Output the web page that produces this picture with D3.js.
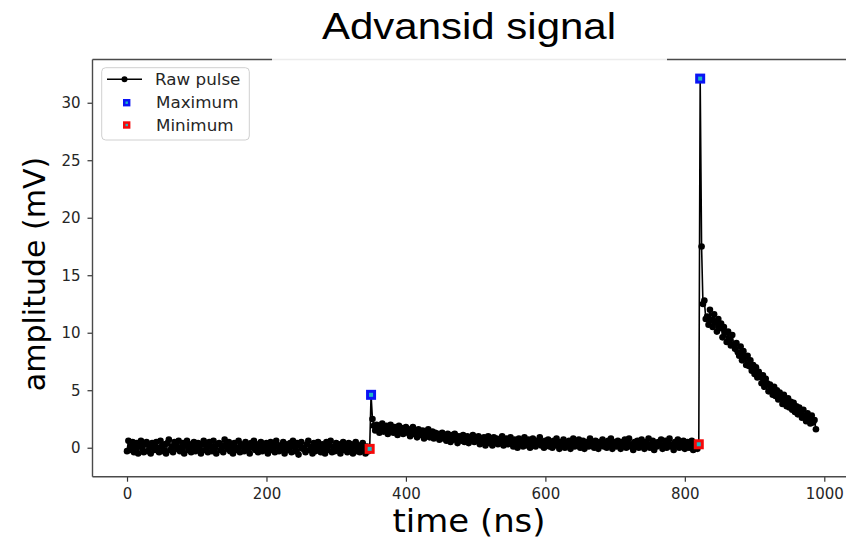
<!doctype html>
<html lang="en">
<head>
<meta charset="utf-8">
<title>Advansid signal</title>
<script src="https://cdnjs.cloudflare.com/ajax/libs/d3/7.8.5/d3.min.js"></script>
<style>
  body { margin: 0; background: #fff; }
  svg { display: block; }
  .tick text { font-family: "DejaVu Sans", sans-serif; font-size: 15px; fill: #262626; }
  .tick line { stroke: #333; stroke-width: 1.2px; }
</style>
</head>
<body>
<script>

// sampling of the trace (ns)
var sampleStart = 0,
    sampleStep = 2;

// raw pulse amplitude (mV), one value per sample
var baseline = [
  -0.3, 0.6, -0.2, 0.1, 0.5, -0.4, 0.0, 0.4, -0.5, 0.2, 0.6, -0.1, -0.4, 0.3, 0.5, -0.3, 0.1, -0.5, 0.4, 0.2,
  -0.2, 0.5, 0.0, -0.4, 0.6, 0.1, -0.3, 0.3, -0.5, 0.4, 0.7, -0.2, 0.1, -0.4, 0.5, 0.2, -0.1, 0.6, -0.3, 0.0,
  0.4, -0.5, 0.2, 0.6, -0.2, 0.3, -0.4, 0.1, 0.5, -0.3, 0.0, 0.4, -0.1, -0.5, 0.3, 0.6, -0.2, 0.2, -0.4, 0.5,
  0.1, -0.3, 0.6, 0.0, -0.5, 0.3, 0.4, -0.2, 0.2, -0.4, 0.7, 0.1, -0.1, 0.5, -0.3, 0.2, -0.5, 0.4, 0.0, -0.2,
  0.6, -0.4, 0.3, 0.1, -0.3, 0.5, -0.1, 0.2, -0.5, 0.4, 0.0, 0.6, -0.2, 0.3, -0.4, 0.1, 0.5, -0.3, 0.2, -0.1,
  0.4, -0.5, 0.0, 0.5, -0.2, 0.3, -0.4, 0.6, 0.1, -0.3, 0.2, -0.1, 0.5, -0.5, 0.3, 0.0, -0.2, 0.4, -0.4, 0.6,
  0.1, -0.3, 0.4, -0.6, 0.2, 0.5, -0.1, 0.0, -0.4, 0.3, 0.6, -0.2, 0.1, -0.5, 0.4, -0.3, 0.2, 0.5, -0.1, -0.4,
  0.3, 0.0, -0.5, 0.5, -0.2, 0.2, 0.6, -0.4, 0.1, -0.3, 0.4, -0.1, 0.3, -0.5, 0.0, 0.5, -0.2, 0.2, -0.4, 0.4,
  -0.1, 0.3, -0.5, 0.1, 0.5, -0.3, 0.2, -0.4, 0.0, 0.4, -0.2, -0.5, 0.1, -0.3
];

var smallPulse = [
  -0.1, 4.6, 2.5,
  1.9, 1.5, 2.0, 1.6, 1.3, 1.8, 2.1, 1.4, 1.7, 1.9, 1.2, 1.6, 2.0, 1.5, 1.3, 1.8, 1.6, 1.1, 1.9, 1.4, 1.7, 1.2, 1.5, 1.8,
  1.3, 1.6, 1.0, 1.5, 1.8, 1.2, 1.4, 0.9, 1.6, 1.3, 1.1, 1.5, 0.8, 1.4, 1.2, 1.6, 0.9, 1.1, 1.4, 0.8, 1.3, 1.0, 1.2, 0.7, 1.1,
  1.3, 0.8, 1.0, 0.6, 1.2, 0.9, 0.5, 1.1, 0.7, 1.2, 0.8, 0.4, 1.0, 0.9, 0.6, 1.1, 0.5, 0.8, 1.0, 0.4, 0.9, 0.7, 1.1, 0.5, 0.8,
  0.6, 1.0, 0.3, 0.8, 0.5, 0.9, 0.2, 0.7, 1.0, 0.4, 0.6, 0.2, 0.9, 0.5, 0.8, 0.3, 0.7, 0.4, 1.0, 0.2, 0.6, 0.8, 0.3, 0.5, 0.9,
  0.4, 0.1, 0.7, 0.5, 0.0, 0.8, 0.3, 0.6, 0.1, 0.9, 0.4, 0.2, 0.7, 0.0, 0.5, 0.8, 0.3, 0.1, 0.6, 0.4, 0.9, 0.2, 0.5, 0.0, 0.6,
  0.3, 0.7, 0.1, 0.5, 0.0, 0.6, 0.2, 0.8, 0.4, -0.1, 0.5, 0.3, 0.7, 0.0, 0.4, 0.2, 0.6, -0.1, 0.3, 0.8, 0.1, 0.5, 0.2, 0.7, 0.0,
  0.4, 0.6, -0.1, 0.3, 0.5, 0.1, 0.8, 0.2, 0.4, 0.0, 0.6, 0.3, -0.1, 0.5, 0.2, 0.7, 0.1, 0.4, 0.0, 0.6, 0.3, 0.8, -0.1, 0.2, 0.5,
  0.1, 0.6, 0.3, -0.1, 0.5, 0.2, 0.7, 0.0, 0.4, 0.8, 0.1, 0.3, -0.2, 0.5, 0.2, 0.6, 0.0, 0.4, 0.7, 0.1,
  -0.1, 0.5, 0.3, 0.8, 0.0, 0.2, 0.6, -0.2, 0.4, 0.1, 0.5, 0.3, 0.7, -0.1, 0.2, 0.6, 0.0, 0.4, 0.8, 0.1,
  0.3, -0.2, 0.5, 0.2, 0.7, 0.0, 0.4, 0.1, 0.6, -0.1, 0.3, 0.5, 0.0, 0.2, 0.6, -0.2, 0.4, 0.1, -0.1, 0.3
];

var bigPulse = [
  32.1, 17.5, 12.5, 12.8, 11.2,
  11.4, 10.7, 12.0, 11.1, 10.5, 11.6, 10.9, 10.1, 11.2, 10.4, 10.8,
  9.6, 10.5, 10.0, 9.2, 10.1, 9.4, 8.9, 9.8, 9.0, 8.6,
  9.1, 8.3, 8.0, 8.8, 7.6, 8.4, 7.9, 7.2, 8.0, 7.1,
  7.6, 6.7, 7.2, 6.4, 7.0, 6.1, 6.6, 6.2, 5.6, 6.3,
  5.3, 6.0, 5.6, 4.9, 5.5, 5.1, 4.6, 5.3, 4.5, 5.0,
  4.2, 4.8, 4.4, 3.8, 4.6, 4.0, 3.6, 4.3, 3.5, 4.0,
  3.3, 3.9, 3.1, 3.6, 2.9, 3.5, 3.0, 2.6, 3.3, 2.7,
  2.3, 3.0, 2.5, 2.1, 2.8, 2.2, 2.4, 1.6
];

// detected extrema (ns, mV)
var maxTime = [350, 822],
    maxAmp = [4.6, 32.1],
    minTime = [348, 820],
    minAmp = [-0.1, 0.3];

var xTicks = [0, 200, 400, 600, 800, 1000],
    yTicks = [0, 5, 10, 15, 20, 25, 30];

var legendLabels = ["Raw pulse", "Maximum", "Minimum"];

var width = 846,
    height = 539,
    plotLeft = 92.5,
    plotTop = 59.5,
    plotBottom = 476.7,
    plotRight = 848;

var amps = baseline.concat(smallPulse, bigPulse);
var pulse = amps.map(function(v, i) { return { t: sampleStart + i * sampleStep, v: v }; });
var maxima = maxTime.map(function(t, i) { return { t: t, v: maxAmp[i] }; });
var minima = minTime.map(function(t, i) { return { t: t, v: minAmp[i] }; });

var x = d3.scaleLinear().domain([-49.5, 1034]).range([plotLeft, plotRight]);
var y = d3.scaleLinear().domain([-2.52, 33.76]).range([plotBottom, plotTop]);

var svg = d3.select("body").append("svg")
    .attr("width", width)
    .attr("height", height);

svg.append("defs").append("clipPath").attr("id", "plotclip")
  .append("rect")
    .attr("x", plotLeft).attr("y", plotTop)
    .attr("width", plotRight - plotLeft).attr("height", plotBottom - plotTop);

var plot = svg.append("g").attr("clip-path", "url(#plotclip)");

var line = d3.line()
    .x(function(d) { return x(d.t); })
    .y(function(d) { return y(d.v); });

plot.append("path")
    .datum(pulse)
    .attr("d", line)
    .attr("fill", "none")
    .attr("stroke", "#000")
    .attr("stroke-width", 1.6)
    .attr("stroke-linejoin", "round");

plot.selectAll("circle.raw")
    .data(pulse)
  .enter().append("circle")
    .attr("class", "raw")
    .attr("cx", function(d) { return x(d.t); })
    .attr("cy", function(d) { return y(d.v); })
    .attr("r", 3.3)
    .attr("fill", "#000");

function squareMarker(g, data, color, size, inner) {
  var m = g.selectAll(null)
      .data(data)
    .enter().append("g")
      .attr("transform", function(d) { return "translate(" + x(d.t) + "," + y(d.v) + ")"; });
  m.append("rect")
      .attr("x", -size / 2).attr("y", -size / 2)
      .attr("width", size).attr("height", size)
      .attr("fill", color);
  m.append("rect")
      .attr("x", -inner / 2).attr("y", -inner / 2)
      .attr("width", inner).attr("height", inner)
      .attr("fill", "#1fb8c4");
}

squareMarker(plot, maxima, "#0a14f5", 10, 4);
squareMarker(plot, minima, "#f50a0a", 10, 4);

// axes
svg.append("g")
    .attr("transform", "translate(0," + plotBottom + ")")
    .call(d3.axisBottom(x).tickValues(xTicks).tickSize(5).tickPadding(7).tickFormat(d3.format("d")))
    .call(function(g) { g.select(".domain").remove(); });

svg.append("g")
    .attr("transform", "translate(" + plotLeft + ",0)")
    .call(d3.axisLeft(y).tickValues(yTicks).tickSize(5).tickPadding(7).tickFormat(d3.format("d")))
    .call(function(g) { g.select(".domain").remove(); });

// spines
var spine = svg.append("g").attr("stroke", "#4a4a4a").attr("stroke-width", 1.4).attr("fill", "none");
spine.append("line").attr("x1", plotLeft).attr("x2", plotLeft).attr("y1", plotTop).attr("y2", plotBottom);
spine.append("line").attr("x1", plotLeft).attr("x2", width).attr("y1", plotBottom).attr("y2", plotBottom);
spine.append("line").attr("x1", plotLeft).attr("x2", 272).attr("y1", plotTop).attr("y2", plotTop);
spine.append("line").attr("x1", 667).attr("x2", width).attr("y1", plotTop).attr("y2", plotTop);
spine.append("line").attr("x1", 272).attr("x2", 667).attr("y1", plotTop).attr("y2", plotTop).attr("stroke", "#ececec");

// title (the source image is slightly stretched horizontally)
svg.append("text")
    .attr("transform", "translate(469,38.5) scale(1.12,1)")
    .attr("text-anchor", "middle")
    .style("font-family", "'Liberation Sans', Arial, sans-serif")
    .style("font-size", "37.5px")
    .style("fill", "#000")
    .text("Advansid signal");

// axis labels
svg.append("text")
    .attr("transform", "translate(469,532) scale(1.06,1)")
    .attr("text-anchor", "middle")
    .style("font-family", "'DejaVu Sans', sans-serif")
    .style("font-size", "32px")
    .style("fill", "#000")
    .text("time (ns)");

svg.append("text")
    .attr("transform", "translate(45,274) rotate(-90)")
    .attr("text-anchor", "middle")
    .style("font-family", "'DejaVu Sans', sans-serif")
    .style("font-size", "30px")
    .style("fill", "#000")
    .text("amplitude (mV)");

// legend
var legend = svg.append("g");
legend.append("rect")
    .attr("x", 101.7).attr("y", 67.7)
    .attr("width", 147.6).attr("height", 72.3)
    .attr("rx", 4)
    .attr("fill", "#fff")
    .attr("fill-opacity", 0.8)
    .attr("stroke", "#d0d0d0");

var rowY = [79.3, 102.7, 125];
legend.append("line")
    .attr("x1", 107).attr("x2", 142).attr("y1", rowY[0]).attr("y2", rowY[0])
    .attr("stroke", "#000").attr("stroke-width", 1.6);
legend.append("circle").attr("cx", 124.5).attr("cy", rowY[0]).attr("r", 3).attr("fill", "#000");

[["#0a14f5", rowY[1]], ["#f50a0a", rowY[2]]].forEach(function(s) {
  legend.append("rect").attr("x", 126.7 - 3.7).attr("y", s[1] - 3.7).attr("width", 7.4).attr("height", 7.4).attr("fill", s[0]);
  legend.append("rect").attr("x", 126.7 - 1.2).attr("y", s[1] - 1.2).attr("width", 2.4).attr("height", 2.4).attr("fill", "#1fb8c4");
});

legend.selectAll("text.lab")
    .data(legendLabels)
  .enter().append("text")
    .attr("class", "lab")
    .attr("transform", function(d, i) {
      return "translate(" + (i === 0 ? 155 : 156) + "," + rowY[i] + ") scale(1.08,1)";
    })
    .attr("dy", "0.36em")
    .style("font-family", "'DejaVu Sans', sans-serif")
    .style("font-size", "15.5px")
    .style("fill", "#262626")
    .text(function(d) { return d; });

</script>
</body>
</html>
